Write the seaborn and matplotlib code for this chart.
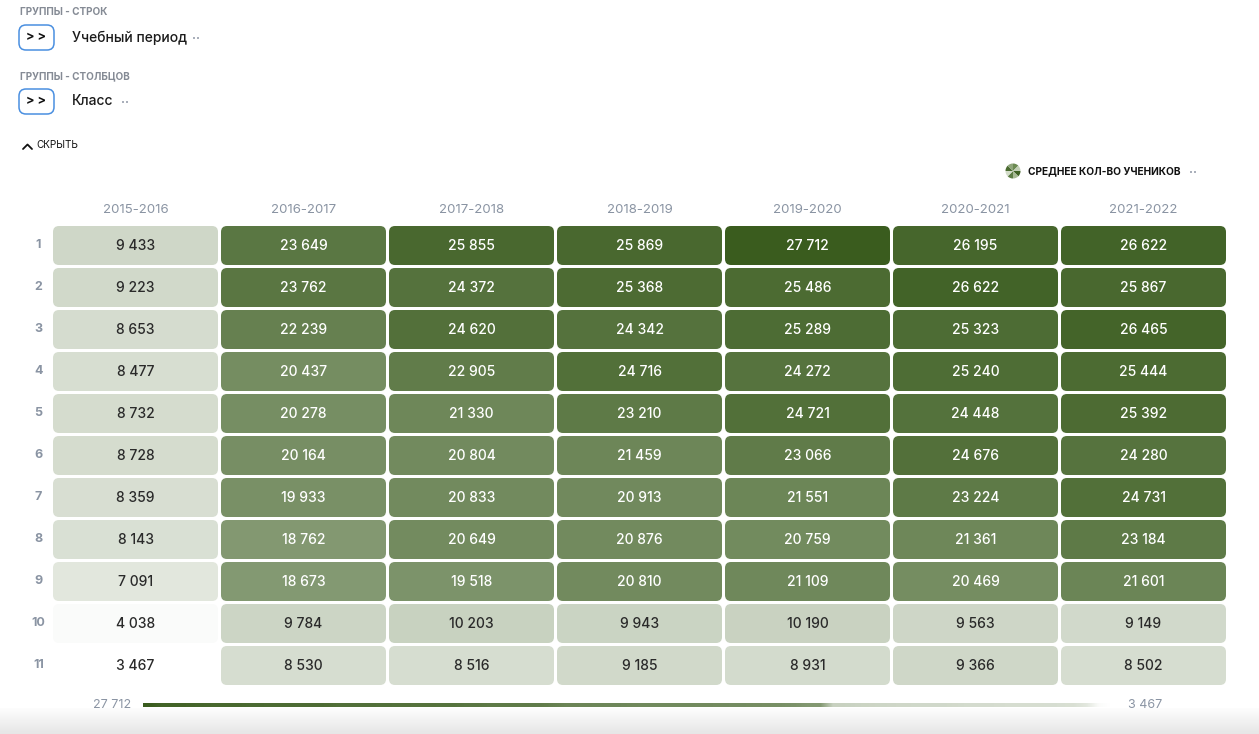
import numpy as np
import pandas as pd
import matplotlib
matplotlib.use("Agg")
import matplotlib.pyplot as plt
import seaborn as sns
from matplotlib.patches import FancyBboxPatch, Wedge
from matplotlib.colors import LinearSegmentedColormap

# ---------------- data ----------------
years = ["2015-2016", "2016-2017", "2017-2018", "2018-2019",
         "2019-2020", "2020-2021", "2021-2022"]
grades = [str(i) for i in range(1, 12)]

y2015 = [9433, 9223, 8653, 8477, 8732, 8728, 8359, 8143, 7091, 4038, 3467]
y2016 = [23649, 23762, 22239, 20437, 20278, 20164, 19933, 18762, 18673, 9784, 8530]
y2017 = [25855, 24372, 24620, 22905, 21330, 20804, 20833, 20649, 19518, 10203, 8516]
y2018 = [25869, 25368, 24342, 24716, 23210, 21459, 20913, 20876, 20810, 9943, 9185]
y2019 = [27712, 25486, 25289, 24272, 24721, 23066, 21551, 20759, 21109, 10190, 8931]
y2020 = [26195, 26622, 25323, 25240, 24448, 24676, 23224, 21361, 20469, 9563, 9366]
y2021 = [26622, 25867, 26465, 25444, 25392, 24280, 24731, 23184, 21601, 9149, 8502]

df = pd.DataFrame(np.column_stack([y2015, y2016, y2017, y2018, y2019, y2020, y2021]),
                  index=grades, columns=years)
labels = df.map(lambda v: f"{v:,}".replace(",", " "))

# ---------------- figure ----------------
W, H = 1259, 734
sns.set_theme(style="white")
plt.rcParams['font.family'] = ['Inter', 'DejaVu Sans']
fig = plt.figure(figsize=(W / 100, H / 100), dpi=100)
fig.patch.set_facecolor("white")

GRAY = "#8a94a3"

# overlay axes in pixel coordinates
oax = fig.add_axes([0, 0, 1, 1])
oax.axis("off")

# bottom shade
grad = np.linspace(0, 1, 50).reshape(-1, 1)
shade = LinearSegmentedColormap.from_list("s", ["#fdfdfd", "#e6e6e6"])
oax.imshow(grad, extent=[0, W, 734, 708], cmap=shade, aspect="auto", zorder=0)
oax.set_xlim(0, W)
oax.set_ylim(H, 0)


def dots(x, y):
    oax.scatter([x, x + 4.5], [y, y], s=2.2, color="#aab0bb", marker="s", lw=0)


def button(y):
    oax.add_patch(FancyBboxPatch((19, y), 35, 25, boxstyle="round,pad=0,rounding_size=7",
                                 fc="white", ec="#4a8fe0", lw=1.1))
    oax.text(36.5, y + 12.5, "> >", ha="center", va="center", fontsize=9,
             fontweight="bold", color="#111111")


# top-left UI
oax.text(20, 12, "ГРУППЫ - СТРОК", fontsize=7.2, fontweight="bold", color="#858b95",
         va="center", ha="left")
button(25)
oax.text(72, 37.5, "Учебный период", fontsize=10, fontweight="medium", color="#1b1b1b",
         va="center", ha="left")
dots(194, 38)

oax.text(20, 76, "ГРУППЫ - СТОЛБЦОВ", fontsize=7.2, fontweight="bold", color="#858b95",
         va="center", ha="left")
button(89)
oax.text(72, 101, "Класс", fontsize=10, fontweight="medium", color="#1b1b1b",
         va="center", ha="left")
dots(123, 102)

oax.plot([23, 27.5, 32], [149, 144.5, 149], color="#111111", lw=1.3)
oax.text(36, 145.5, "СКРЫТЬ", fontsize=7.2, color="#111111", va="center", ha="left")

# legend with pie icon
cx, cy, rr = 1013, 171, 7.5
pie_cols = ["#3f6224", "#a8bb95", "#5d7d45", "#d3dcc9", "#4a6b30", "#8ea57a", "#6b8a52", "#c2cfb6"]
ang = 0
for k, c in enumerate(pie_cols):
    oax.add_patch(Wedge((cx, cy), rr, ang, ang + 45, fc=c, ec="none"))
    ang += 45
oax.text(1028, 171.5, "СРЕДНЕЕ КОЛ-ВО УЧЕНИКОВ", fontsize=7.3, fontweight="bold",
         color="#111111", va="center", ha="left")
dots(1191, 172)

# ---------------- heatmap ----------------
left, right, top, bottom = 51.5, 1227.5, 224.5, 686.5
ax = fig.add_axes([left / W, 1 - bottom / H, (right - left) / W, (bottom - top) / H])
ax.patch.set_alpha(0)

cmap = LinearSegmentedColormap.from_list("g", ["#ffffff", "#3a5c1e"])
vmin, vmax = df.values.min(), df.values.max()
sns.heatmap(df, ax=ax, cmap=cmap, vmin=vmin, vmax=vmax, cbar=False,
            annot=labels, fmt="", annot_kws=dict(fontsize=10, fontweight="medium"))

mesh = ax.collections[0]
rgba = mesh.to_rgba(np.asarray(mesh.get_array())).reshape(len(grades), len(years), 4)
mesh.set_visible(False)

colw = (right - left) / len(years)
rowh = (bottom - top) / len(grades)
gx = 1.5 / colw
gy = 1.5 / rowh
rad = 6 / colw
for i in range(len(grades)):
    for j in range(len(years)):
        ax.add_patch(FancyBboxPatch((j + gx, i + gy), 1 - 2 * gx, 1 - 2 * gy,
                                    boxstyle=f"round,pad=0,rounding_size={rad}",
                                    mutation_aspect=colw / rowh,
                                    fc=rgba[i, j], ec="none", zorder=1))

vals = df.values.flatten()
for t, v in zip(ax.texts, vals):
    t.set_zorder(3)
    t.set_color("white" if v > 15000 else "#2a2a2a")

ax.xaxis.tick_top()
ax.set_xticklabels(years, rotation=0, color=GRAY, fontsize=9.5)
ax.set_yticklabels(grades, rotation=0, color=GRAY, fontsize=9, fontweight="bold")
for lab in ax.get_yticklabels():
    lab.set_ha("center")
ax.tick_params(axis="x", length=0, pad=6)
ax.tick_params(axis="y", length=0, pad=9.5)
ax.set_xlabel("")
ax.set_ylabel("")
for s in ax.spines.values():
    s.set_visible(False)

# ---------------- color scale bar (values in descending order) ----------------
cax = fig.add_axes([143 / W, 1 - 707.5 / H, (1118 - 143) / W, 5 / H])
sorted_vals = np.sort(df.values.ravel())[::-1]
cax.imshow(sorted_vals[None, :], cmap=cmap, norm=mesh.norm, aspect="auto",
           interpolation="bilinear")
cax.axis("off")
fig.text(131 / W, 1 - 705 / H, f"{vmax:,}".replace(",", " "), ha="right", va="center",
         fontsize=9, color=GRAY)
fig.text(1128 / W, 1 - 705 / H, f"{vmin:,}".replace(",", " "), ha="left", va="center",
         fontsize=9, color=GRAY)

fig.savefig("out.png", dpi=100)
